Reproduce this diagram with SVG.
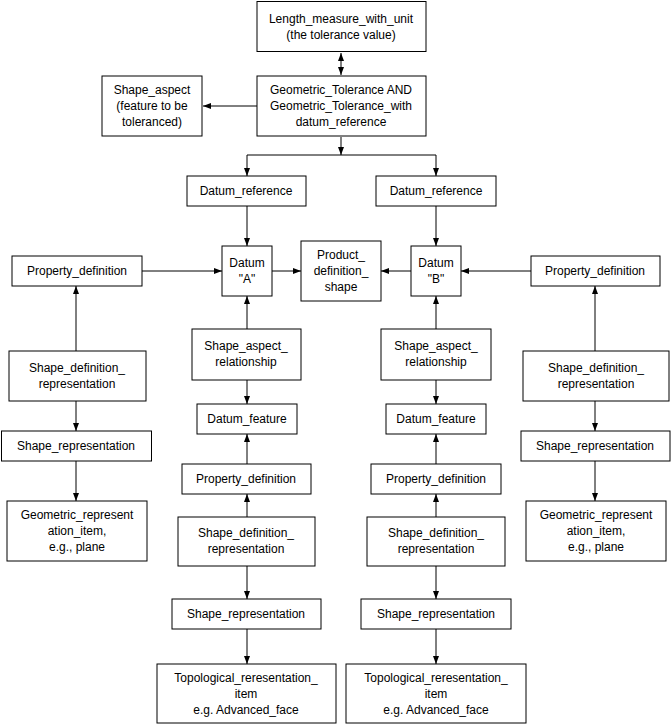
<svg xmlns="http://www.w3.org/2000/svg" width="672" height="724" viewBox="0 0 672 724">
<style>
.b{fill:#fff;stroke:#000;stroke-width:1}
text{font-family:"Liberation Sans",Arial,sans-serif;font-size:12px;fill:#000;text-anchor:middle}
.c{fill:none;stroke:#000;stroke-width:1}
</style>
<defs>
<marker id="a" viewBox="0 0 8 8" refX="8" refY="4" markerWidth="8" markerHeight="8" markerUnits="userSpaceOnUse" orient="auto-start-reverse"><path d="M0,1 L8,4 L0,7 z" fill="#000"/></marker>
</defs>
<rect width="672" height="724" fill="#fff"/>
<g id="connectors" class="c">
<path d="M341,53 V75" marker-start="url(#a)" marker-end="url(#a)"/>
<path d="M257,106 H203" marker-end="url(#a)"/>
<path d="M341,137 V155" marker-end="url(#a)"/>
<path d="M247,155 H436"/>
<path d="M247,155 V176" marker-end="url(#a)"/>
<path d="M436,155 V176" marker-end="url(#a)"/>
<path d="M247,206 V246" marker-end="url(#a)"/>
<path d="M436,206 V246" marker-end="url(#a)"/>
<path d="M142,271 H222" marker-end="url(#a)"/>
<path d="M272,271 H301" marker-end="url(#a)"/>
<path d="M411,271 H381" marker-end="url(#a)"/>
<path d="M531,271 H461" marker-end="url(#a)"/>
<path d="M76,351 V286" marker-end="url(#a)"/>
<path d="M595,351 V286" marker-end="url(#a)"/>
<path d="M247,329 V296" marker-end="url(#a)"/>
<path d="M436,329 V296" marker-end="url(#a)"/>
<path d="M76,401 V431" marker-end="url(#a)"/>
<path d="M76,461 V501" marker-end="url(#a)"/>
<path d="M595,401 V431" marker-end="url(#a)"/>
<path d="M595,461 V501" marker-end="url(#a)"/>
<path d="M247,380 V404" marker-end="url(#a)"/>
<path d="M436,380 V404" marker-end="url(#a)"/>
<path d="M247,464 V434" marker-end="url(#a)"/>
<path d="M436,464 V434" marker-end="url(#a)"/>
<path d="M247,517 V494" marker-end="url(#a)"/>
<path d="M436,517 V494" marker-end="url(#a)"/>
<path d="M247,566 V599" marker-end="url(#a)"/>
<path d="M436,566 V599" marker-end="url(#a)"/>
<path d="M247,629 V664" marker-end="url(#a)"/>
<path d="M436,629 V664" marker-end="url(#a)"/>
</g>
<g id="length"><rect class="b" x="257" y="1.5" width="169" height="50"/><text x="341" y="23">Length_measure_with_unit</text><text x="341" y="39">(the tolerance value)</text></g>
<g id="geomtol"><rect class="b" x="257" y="76" width="169" height="60"/><text x="341" y="94">Geometric_Tolerance AND</text><text x="341" y="110">Geometric_Tolerance_with</text><text x="341" y="126">datum_reference</text></g>
<g id="shapeaspect"><rect class="b" x="102" y="76" width="100" height="60"/><text x="152" y="94">Shape_aspect</text><text x="152" y="110">(feature to be</text><text x="152" y="126">toleranced)</text></g>
<g id="dref1"><rect class="b" x="187" y="176" width="119" height="30"/><text x="246" y="195">Datum_reference</text></g>
<g id="dref2"><rect class="b" x="376" y="176" width="120" height="30"/><text x="436" y="195">Datum_reference</text></g>
<g id="datumA"><rect class="b" x="222" y="246" width="50" height="50"/><text x="247" y="267">Datum</text><text x="247" y="283">"A"</text></g>
<g id="product"><rect class="b" x="301" y="241" width="80" height="60"/><text x="341" y="259">Product_</text><text x="341" y="275">definition_</text><text x="341" y="291">shape</text></g>
<g id="datumB"><rect class="b" x="411" y="246" width="50" height="50"/><text x="436" y="267">Datum</text><text x="436" y="283">"B"</text></g>
<g id="pdL"><rect class="b" x="12" y="256" width="130" height="30"/><text x="77" y="275">Property_definition</text></g>
<g id="pdR"><rect class="b" x="531" y="256" width="129" height="30"/><text x="595" y="275">Property_definition</text></g>
<g id="sdrL"><rect class="b" x="9" y="351" width="137" height="50"/><text x="77" y="372">Shape_definition_</text><text x="77" y="388">representation</text></g>
<g id="srL"><rect class="b" x="1.5" y="431" width="150" height="30"/><text x="76" y="450">Shape_representation</text></g>
<g id="griL"><rect class="b" x="7" y="501" width="140" height="60"/><text x="77" y="519">Geometric_represent</text><text x="77" y="535">ation_item,</text><text x="77" y="551">e.g., plane</text></g>
<g id="sdrR"><rect class="b" x="523" y="351" width="146" height="50"/><text x="596" y="372">Shape_definition_</text><text x="596" y="388">representation</text></g>
<g id="srR"><rect class="b" x="521" y="431" width="149" height="30"/><text x="595" y="450">Shape_representation</text></g>
<g id="griR"><rect class="b" x="526" y="501" width="140" height="60"/><text x="596" y="519">Geometric_represent</text><text x="596" y="535">ation_item,</text><text x="596" y="551">e.g., plane</text></g>
<g id="sar1"><rect class="b" x="192" y="329" width="109" height="51"/><text x="246" y="350">Shape_aspect_</text><text x="246" y="366">relationship</text></g>
<g id="df1"><rect class="b" x="197" y="404" width="100" height="30"/><text x="247" y="423">Datum_feature</text></g>
<g id="pd1"><rect class="b" x="182" y="464" width="129" height="30"/><text x="246" y="483">Property_definition</text></g>
<g id="sdr1"><rect class="b" x="178" y="517" width="137" height="49"/><text x="246" y="537">Shape_definition_</text><text x="246" y="553">representation</text></g>
<g id="sr1"><rect class="b" x="172" y="599" width="149" height="30"/><text x="246" y="618">Shape_representation</text></g>
<g id="topo1"><rect class="b" x="157" y="664" width="179" height="59"/><text x="246" y="682">Topological_reresentation_</text><text x="246" y="698">item</text><text x="246" y="714">e.g. Advanced_face</text></g>
<g id="sar2"><rect class="b" x="381" y="329" width="110" height="51"/><text x="436" y="350">Shape_aspect_</text><text x="436" y="366">relationship</text></g>
<g id="df2"><rect class="b" x="386" y="404" width="100" height="30"/><text x="436" y="423">Datum_feature</text></g>
<g id="pd2"><rect class="b" x="371" y="464" width="130" height="30"/><text x="436" y="483">Property_definition</text></g>
<g id="sdr2"><rect class="b" x="367" y="517" width="138" height="49"/><text x="436" y="537">Shape_definition_</text><text x="436" y="553">representation</text></g>
<g id="sr2"><rect class="b" x="361" y="599" width="150" height="30"/><text x="436" y="618">Shape_representation</text></g>
<g id="topo2"><rect class="b" x="346" y="664" width="180" height="59"/><text x="436" y="682">Topological_reresentation_</text><text x="436" y="698">item</text><text x="436" y="714">e.g. Advanced_face</text></g>
</svg>
